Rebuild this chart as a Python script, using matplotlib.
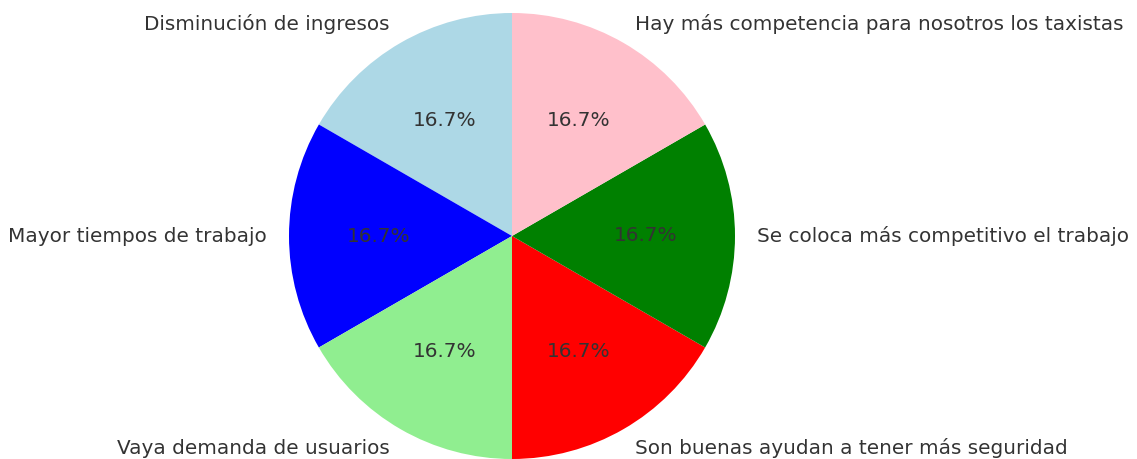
import matplotlib
matplotlib.use("Agg")
import matplotlib.pyplot as plt

labels = ["Disminución de ingresos", "Mayor tiempos de trabajo", "Vaya demanda de usuarios",
          "Son buenas ayudan a tener más seguridad", "Se coloca más competitivo el trabajo",
          "Hay más competencia para nosotros los taxistas"]
values = [1, 1, 1, 1, 1, 1]
colors = ["lightblue", "blue", "lightgreen", "red", "green", "pink"]

fig = plt.figure(figsize=(11.37, 4.59), dpi=100)
R = 223
cx, cy = 512, 459 - 236
ax = fig.add_axes([(cx - R) / 1137, (cy - R) / 459, 2 * R / 1137, 2 * R / 459])
wedges, texts, autotexts = ax.pie(values, labels=labels, colors=colors, startangle=90,
                                  autopct="%1.1f%%", textprops={"fontsize": 14.4, "color": "#333333"})
ax.set_xlim(-1, 1)
ax.set_ylim(-1, 1)
ax.set_aspect("equal")
ax.axis("off")
fig.savefig("out.png", dpi=100)
